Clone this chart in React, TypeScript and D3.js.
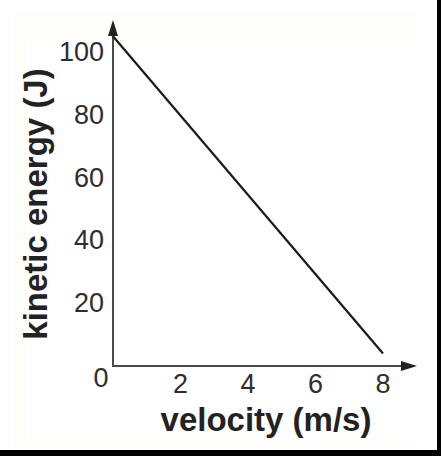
import React from "react";
import * as d3 from "d3";

const velocity = [0, 8];
const energy = [105, 4];
const xTicks = [2, 4, 6, 8];
const yTicks = [20, 40, 60, 80, 100];
const xTitle = "velocity (m/s)";
const yTitle = "kinetic energy (J)";

export default function App() {
  const W = 441, H = 456;
  const x = d3.scaleLinear().domain([0, 8]).range([113, 383]);
  const y = d3.scaleLinear().domain([0, 100]).range([366, 52]);
  const line = d3.line<number>().x((_, i) => x(velocity[i])).y((d) => y(d));
  const axisColor = "#4a4a4a";
  const textColor = "#2e2e2e";
  const font = "'Liberation Sans', Arial, Helvetica, sans-serif";
  const x0 = x(0), y0 = y(0);
  const yTop = 20, xRight = 417;
  return (
    <svg width={W} height={H} style={{ position: "absolute", left: 0, top: 0, background: "#fff" }}>
      <rect x={14} y={13} width={400} height={434} fill="#fefef8" />
      <rect x={26} y={40} width={388} height={400} fill="#ffffff" />
      {/* axes */}
      <line x1={x0} y1={y0} x2={x0} y2={yTop + 10} stroke={axisColor} strokeWidth={2} />
      <path d={`M${x0},${yTop} L${x0 - 5},${yTop + 16} L${x0 + 5},${yTop + 16} Z`} fill="#222" />
      <line x1={x0 - 1} y1={y0} x2={xRight - 10} y2={y0} stroke={axisColor} strokeWidth={2} />
      <path d={`M${xRight},${y0} L${xRight - 16},${y0 - 5} L${xRight - 16},${y0 + 5} Z`} fill="#222" />
      {/* data line */}
      <path d={line(energy) || ""} fill="none" stroke="#1a1a1a" strokeWidth={2.2} />
      {/* tick labels */}
      {yTicks.map((t) => (
        <text key={"y" + t} x={104} y={y(t)} textAnchor="end" dominantBaseline="central"
          fontFamily={font} fontSize={27} fill={textColor}>{t}</text>
      ))}
      {xTicks.map((t) => (
        <text key={"x" + t} x={x(t)} y={384} textAnchor="middle" dominantBaseline="central"
          fontFamily={font} fontSize={27} fill={textColor}>{t}</text>
      ))}
      <text x={101} y={378} textAnchor="middle" dominantBaseline="central"
        fontFamily={font} fontSize={27} fill={textColor}>0</text>
      {/* titles */}
      <text x={266} y={431} textAnchor="middle" fontFamily={font} fontSize={33}
        fontWeight="bold" fill="#222">{xTitle}</text>
      <text transform={`translate(47,204) rotate(-90)`} textAnchor="middle" fontFamily={font}
        fontSize={33} fontWeight="bold" fill="#222">{yTitle}</text>
      {/* frame */}
      <rect x={437} y={0} width={4} height={H} fill="#000" />
      <rect x={0} y={450} width={W} height={6} fill="#000" />
    </svg>
  );
}
